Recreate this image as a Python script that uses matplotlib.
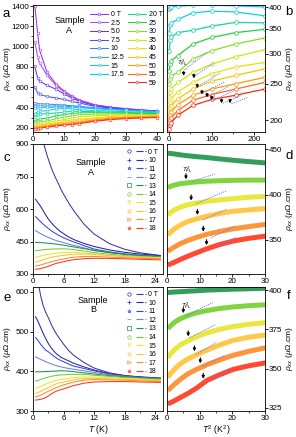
import numpy as np
import matplotlib
matplotlib.use('Agg')
import matplotlib.pyplot as plt
from matplotlib.lines import Line2D
from matplotlib.legend_handler import HandlerTuple
from matplotlib.ticker import MultipleLocator, FixedLocator, NullLocator, ScalarFormatter

plt.rcParams['font.family'] = ['Liberation Sans', 'DejaVu Sans']
plt.rcParams['font.size'] = 5.8
plt.rcParams['mathtext.fontset'] = 'custom'
plt.rcParams['mathtext.rm'] = 'Liberation Sans'
plt.rcParams['mathtext.it'] = 'Liberation Sans:italic'
plt.rcParams['axes.linewidth'] = 0.6
for ax_ in ('xtick', 'ytick'):
    plt.rcParams[ax_ + '.major.width'] = 0.6
    plt.rcParams[ax_ + '.minor.width'] = 0.5
    plt.rcParams[ax_ + '.major.size'] = 2.0
    plt.rcParams[ax_ + '.minor.size'] = 1.2
    plt.rcParams[ax_ + '.major.pad'] = 1.0
    plt.rcParams[ax_ + '.direction'] = 'out'
    plt.rcParams[ax_ + '.labelsize'] = 5.8

# ---- sample A, pulsed fields (panels a, b)
T_pulse = [0.6, 1.5, 2.1, 4.5, 7.5, 10, 12.5, 15, 20, 25, 30, 35, 40]
fields_pulse = ['0 T', '2.5', '5.0', '7.5', '10', '12.5', '15', '17.5',
                '20 T', '25', '30', '35', '40', '45', '50', '55', '59']
rho_pulse = [
    [1400, 1130, 970, 750, 630, 565, 515, 475, 428, 405, 390, 378, 368],
    [1050, 900, 840, 720, 615, 555, 508, 470, 425, 403, 388, 376, 366],
    [805, 690, 660, 620, 580, 535, 495, 462, 420, 400, 386, 375, 365],
    [600, 545, 530, 510, 495, 480, 462, 445, 412, 395, 383, 373, 364],
    [445, 440, 438, 435, 430, 425, 418, 412, 398, 388, 378, 370, 362],
    [420, 418, 418, 416, 415, 412, 408, 404, 393, 383, 375, 367, 360],
    [395, 398, 400, 402, 404, 404, 403, 400, 390, 380, 372, 365, 358],
    [342, 358, 362, 371, 386, 390, 388, 379, 372, 366, 360, 355, 350],
    [306, 326, 333, 342, 347, 356, 364, 363, 360, 356, 352, 348, 344],
    [271, 282, 288, 297, 319, 332, 342, 349, 350, 348, 345, 342, 339],
    [250, 258, 262, 268, 291, 306, 319, 331, 336, 337, 336, 334, 332],
    [230, 238, 242, 252, 268, 282, 295, 308, 320, 325, 327, 327, 326],
    [217, 224, 228, 238, 252, 266, 277, 285, 302, 312, 317, 319, 320],
    [209, 215, 218, 228, 242, 254, 263, 274, 292, 304, 310, 313, 315],
    [202, 207, 210, 220, 233, 242, 250, 260, 280, 295, 303, 307, 310],
    [196, 200, 203, 212, 226, 234, 242, 252, 272, 288, 297, 302, 306],
    [190, 194, 197, 206, 219, 227, 233, 242, 265, 282, 292, 298, 302],
]
# arrows (T^2_FL, rho at tip) and T^2-linear fits in panel b
arrow_b_T2 = [34, 58, 66, 77, 89, 100, 123, 143]
arrow_b_rho = [258, 254, 239, 230, 226, 222, 218, 218]
fit_b_T2 = [(36, 90), (60, 105), (68, 120), (80, 130), (92, 140), (103, 150), (126, 170), (146, 185)]
fit_b_rho = [(272, 303), (262, 284), (246, 267), (236, 253), (231, 246), (226, 239), (222, 233), (221, 230)]

# ---- continuous sweeps, samples A and B (panels c-f)
T_cont = [0.5, 1, 1.5, 2, 2.5, 3, 3.5, 4, 4.5, 5, 5.5, 6, 7, 8, 10, 12, 15, 18, 21, 25]
fields_cont = ['0 T', '10', '11', '12', '13', '14', '15', '16', '17', '18']
rho_A = [
    [1390, 1200, 1040, 910, 868, 830, 796, 766, 740, 716, 690, 668, 628, 592, 530, 484, 440, 414, 398, 385],
    [645, 628, 612, 592, 572, 554, 539, 526, 514, 503, 494, 486, 471, 459, 441, 427, 411, 400, 392, 385],
    [565, 553, 541, 530, 520, 510, 501, 493, 486, 479, 473, 467, 457, 448, 431, 415, 402, 393, 387, 382],
    [500, 493, 486, 480, 474, 469, 464, 459, 455, 451, 448, 445, 438, 432, 421, 408, 398, 390, 385, 380],
    [446, 445.5, 445, 444, 443, 442, 441, 439.5, 438, 436.5, 435, 433, 429, 425, 417, 409, 399, 391, 385, 379],
    [407.5, 409, 410.5, 412, 413, 414, 414.8, 415.3, 415.8, 416, 416, 416, 415, 412.5, 406, 399, 391, 385, 381, 377],
    [377.5, 380, 383, 386, 388.5, 390.5, 392.5, 394, 395.5, 397, 398, 399, 400, 400, 397, 393, 387, 382, 378.5, 375],
    [355, 358, 362, 366, 370, 373, 376, 379, 381.5, 383, 384.5, 386, 389, 391, 392, 390, 385, 380.5, 377, 373],
    [337, 339, 342, 345.5, 349, 352.5, 356, 359, 362, 364.5, 367, 369.5, 374, 377.5, 381, 381, 378, 375, 373, 370],
    [322, 323, 325, 328, 331.5, 335.5, 340, 344.5, 348.5, 351.5, 354, 357, 362, 366, 371, 372.5, 372, 370, 368, 365],
]
rho_B = [
    [720, 625, 590, 565, 548, 535, 520, 507, 496, 486, 477, 468, 452, 440, 422, 408, 396, 389, 385, 381],
    [537, 525, 510, 495, 482, 470, 460, 452, 445, 440, 435, 432, 426, 420, 411, 403, 394, 389, 386, 383],
    [485, 477, 468, 460, 453, 449, 444, 439, 434, 430, 427, 424, 418, 413, 407, 401, 393, 388, 385, 382],
    [436, 433, 430, 427, 424, 421.5, 419, 416.5, 414.5, 412.5, 411, 409.5, 407, 405, 401, 397, 391, 387, 384, 381],
    [398.5, 398.6, 398.8, 399, 399.3, 399.6, 400, 400.3, 400.6, 400.9, 401.2, 401, 400.5, 399, 396, 393, 389, 386, 383, 380],
    [375.5, 377, 379.5, 381.7, 383.7, 385.5, 387, 388.3, 389.3, 390.1, 390.7, 391.2, 392, 392.3, 392, 390, 387, 384, 382, 379],
    [357, 359, 362, 365, 367.5, 370.3, 372.8, 375, 376.8, 378.2, 379.4, 380.5, 382.5, 384, 385.5, 385.5, 384, 382, 380, 377.5],
    [344.5, 346.5, 349.5, 353, 356, 358.8, 361.8, 365, 368, 370, 371.5, 373, 376, 378.5, 381.5, 382, 381, 380, 378, 376],
    [336, 337.5, 340, 343, 346.5, 349.5, 352.5, 355.5, 358.5, 361, 363.3, 365.5, 369.5, 373, 377.5, 379, 378.5, 377.5, 376, 374],
    [327.5, 328.2, 329.5, 331.5, 334, 337.5, 342.5, 346, 349.5, 351.8, 353.7, 355.5, 360, 364, 370, 373, 374, 374, 373, 372],
]
# arrows and T^2-linear fits in panels d, f (curves 14 T ... 18 T)
arrow_d_T2 = [5.8, 7.4, 9.3, 11.1, 12.1]
fit_d_T2 = [(7.9, 14.6), (8.9, 18.2), (11.0, 18.2), (13.5, 20.7), (16.1, 21.2)]
fit_d_rho = [(414.9, 422.8), (389.8, 404.1), (371.9, 383.7), (352.0, 364.8), (343.3, 353.0)]
arrow_f_T2 = [5.0, 6.5, 8.4, 10.2, 11.1]
fit_f_T2 = [(5.8, 14.0), (6.9, 15.0), (8.9, 15.0), (10.9, 17.8), (14.0, 18.6)]
fit_f_rho = [(383.5, 392.1), (369.7, 378.2), (359.0, 366.5), (351.5, 358.5), (343.0, 348.3)]

cols_pulse = ['#9a30f0', '#a64cf5', '#7030f0', '#4b50f0', '#3d7ef0', '#30a0f0',
              '#20c0f0', '#10d0e0', '#10d8a0', '#20d040', '#80e020', '#c8e810',
              '#f0e000', '#ffc000', '#ff9a00', '#ff6a20', '#ff2a10']
cols_cont = ['#4b2f9e', '#2424a8', '#3448d6', '#6b82ea', '#1c9448',
             '#72d02a', '#e6e62a', '#ffc232', '#ff8a26', '#ff351c']
markers_cont = ['o', '+', '*', '_', 's', 'o', 'v', 'h', '>', '*']
fit_col = '#6a6aff'
ylab = r'$\rho_{xx}$ ($\mu\Omega$.cm)'

fig = plt.figure(figsize=(2.96, 4.37), dpi=100)
W, H = 296., 437.
def box(x0, x1, top, bot):
    return [x0 / W, 1 - bot / H, (x1 - x0) / W, (bot - top) / H]

ax_a = fig.add_axes(box(33, 163, 5, 132))
ax_b = fig.add_axes(box(167, 265, 5, 132))
ax_c = fig.add_axes(box(33, 163, 144, 274))
ax_d = fig.add_axes(box(167, 265, 144, 274))
ax_e = fig.add_axes(box(33, 163, 287, 411))
ax_f = fig.add_axes(box(167, 265, 287, 411))

# panel a
T_pulse_arr = np.array(T_pulse)
lines_a = []
for rho, c, lab in zip(rho_pulse, cols_pulse, fields_pulse):
    ln, = ax_a.plot(T_pulse_arr, rho, '-o', color=c, lw=0.75, ms=2.0,
                    mfc='#f4f4f4', mec=c, mew=0.4, label=lab)
    lines_a.append(ln)
ax_a.set_xlim(0, 42)
ax_a.set_ylim(160, 1410)
ax_a.xaxis.set_major_locator(MultipleLocator(10))
ax_a.xaxis.set_minor_locator(MultipleLocator(5))
ax_a.yaxis.set_major_locator(MultipleLocator(200))
ax_a.yaxis.set_minor_locator(MultipleLocator(100))
ax_a.text(0.28, 0.84, 'Sample\nA', transform=ax_a.transAxes, ha='center',
          va='center', fontsize=6.5, linespacing=1.1)
leg_kw = dict(frameon=False, fontsize=5, handlelength=2.6, handletextpad=0.4,
              labelspacing=0.22, borderpad=0, borderaxespad=0, loc='upper left')
leg1 = ax_a.legend(handles=lines_a[:8], bbox_to_anchor=(0.438, 0.95), **leg_kw)
ax_a.add_artist(leg1)
ax_a.legend(handles=lines_a[8:], bbox_to_anchor=(0.731, 0.95), **leg_kw)

# panel b (log rho axis)
for rho, c in zip(rho_pulse, cols_pulse):
    ax_b.plot(T_pulse_arr ** 2, rho, '-o', color=c, lw=0.9, ms=2.7,
              mfc='#f4f4f4', mec=c, mew=0.5)
for k in range(len(arrow_b_T2)):
    ax_b.annotate('', xy=(arrow_b_T2[k], arrow_b_rho[k]), xytext=(0, 7),
                  textcoords='offset points',
                  arrowprops=dict(arrowstyle='-|>', color='k', lw=0.8, mutation_scale=4))
    ax_b.plot(fit_b_T2[k], fit_b_rho[k], ls=(0, (1.5, 1.2)), color=fit_col, lw=0.6)
ax_b.text(30, 282, r'$T^{2}_{\rm FL}$', fontsize=4.5, ha='center')
ax_b.set_yscale('log')
ax_b.set_xlim(-5, 225)
ax_b.set_ylim(186, 405)
ax_b.xaxis.set_major_locator(MultipleLocator(100))
ax_b.xaxis.set_minor_locator(MultipleLocator(50))
ax_b.yaxis.set_major_locator(FixedLocator([200, 250, 300, 350, 400]))
ax_b.yaxis.set_major_formatter(ScalarFormatter())
ax_b.yaxis.set_minor_locator(NullLocator())

# panels c, e
T_cont_arr = np.array(T_cont)
for ax, data, name, lx, ly in ((ax_c, rho_A, 'Sample\nA', 0.446, 0.82),
                               (ax_e, rho_B, 'Sample\nB', 0.46, 0.855)):
    for rho, c in zip(data, cols_cont):
        ax.plot(T_cont_arr, rho, '-', color=c, lw=0.75)
    ax.set_xlim(0, 25.5)
    ax.xaxis.set_major_locator(MultipleLocator(6))
    ax.xaxis.set_minor_locator(MultipleLocator(3))
    ax.text(lx, ly, name, transform=ax.transAxes, ha='center', va='center',
            fontsize=6.5, linespacing=1.1)
    handles = []
    for c, m in zip(cols_cont, markers_cont):
        handles.append((Line2D([], [], ls='none', marker=m, ms=2.5, mfc='none',
                               mec=c, mew=0.5),
                        Line2D([], [], ls='-.', color=c, lw=0.8)))
    ax.legend(handles, fields_cont, handler_map={tuple: HandlerTuple(ndivide=None, pad=0.2)},
              frameon=False, fontsize=5, handlelength=3.2, handletextpad=0.3,
              labelspacing=0.22, borderpad=0, borderaxespad=0, loc='upper left',
              bbox_to_anchor=(0.70, 0.965))
ax_c.set_ylim(300, 900)
ax_c.yaxis.set_major_locator(MultipleLocator(150))
ax_e.set_ylim(300, 612)
ax_e.yaxis.set_major_locator(MultipleLocator(100))
ax_e.set_xlabel(r'$T$ (K)', fontsize=6.2, labelpad=0.5)

for ax in (ax_a, ax_c, ax_e):
    ax.set_ylabel(ylab, fontsize=6)
    ax.yaxis.set_label_coords(-0.15, 0.5)

# panels d, f
for ax, data, at2, ft2, frho in ((ax_d, rho_A, arrow_d_T2, fit_d_T2, fit_d_rho),
                                 (ax_f, rho_B, arrow_f_T2, fit_f_T2, fit_f_rho)):
    for rho, c in zip(data[4:], cols_cont[4:]):
        ax.plot(T_cont_arr ** 2, rho, '-', color=c, lw=3.6, alpha=0.9,
                solid_capstyle='butt')
    for k in range(5):
        y = np.interp(at2[k], T_cont_arr ** 2, data[5 + k])
        ax.annotate('', xy=(at2[k], y + 1), xytext=(0, 8), textcoords='offset points',
                    arrowprops=dict(arrowstyle='-|>', color='k', lw=0.8, mutation_scale=4))
        ax.plot(ft2[k], frho[k], ls=(0, (1.5, 1.2)), color=fit_col, lw=0.6)
    ax.set_xlim(0, 30)
    ax.xaxis.set_major_locator(MultipleLocator(10))
    ax.xaxis.set_minor_locator(MultipleLocator(5))
ax_d.set_ylim(312, 456)
ax_d.yaxis.set_major_locator(MultipleLocator(50))
ax_d.text(6.3, 426, r'$T^{2}_{\rm FL}$', fontsize=4.5, ha='center')
ax_f.set_ylim(323, 402)
ax_f.yaxis.set_major_locator(MultipleLocator(25))
ax_f.text(5.8, 389, r'$T^{2}_{\rm FL}$', fontsize=4.5, ha='center')
ax_f.set_xlabel(r'$T^{2}$ (K$^{2}$)', fontsize=6.2, labelpad=0.5)

for ax in (ax_b, ax_d, ax_f):
    ax.yaxis.tick_right()
    ax.yaxis.set_label_position('right')
    ax.set_ylabel(ylab, fontsize=6)
    ax.yaxis.set_label_coords(1.19, 0.5)

for lab, x, y in (('a', 6, 14), ('b', 289, 12), ('c', 7, 158), ('d', 289, 156),
                  ('e', 7, 298), ('f', 289, 296)):
    fig.text(x / W, 1 - y / H, lab, fontsize=9.5, ha='center', va='center')

fig.savefig('out.png', dpi=100)
